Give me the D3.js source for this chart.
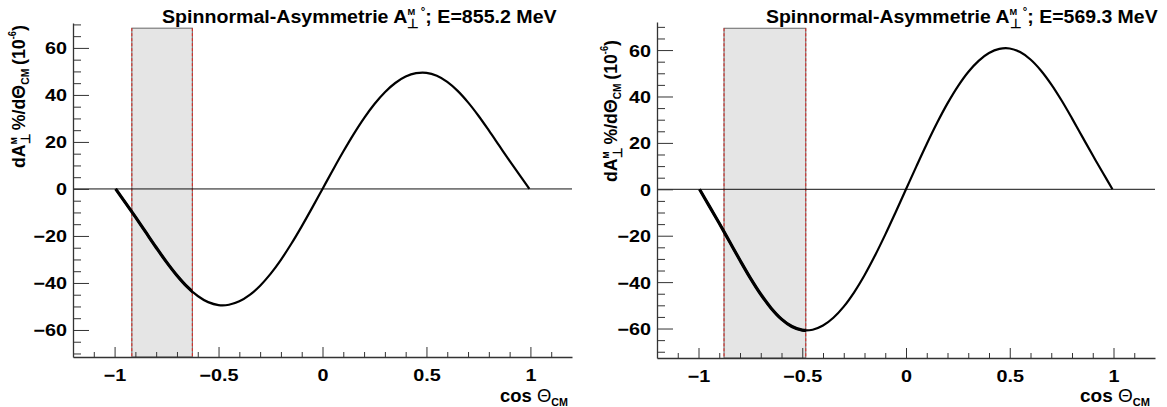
<!DOCTYPE html>
<html>
<head>
<meta charset="utf-8">
<script src="https://cdn.jsdelivr.net/npm/d3@7"></script>
<style>
  body { margin: 0; background: #fff; }
  svg { display: block; }
  text { font-family: "Liberation Sans", Arial, Helvetica, sans-serif; font-weight: bold; fill: #000; white-space: pre; }
</style>
</head>
<body>
<svg id="chart" width="1167" height="407"></svg>
<script>
// cos(theta_CM) sample positions of the asymmetry curves
const cosTheta = [-0.995, -0.95, -0.9, -0.85, -0.8, -0.75, -0.7, -0.65, -0.6, -0.55, -0.5,
  -0.45, -0.4, -0.35, -0.3, -0.25, -0.2, -0.15, -0.1, -0.05, 0,
  0.05, 0.1, 0.15, 0.2, 0.25, 0.3, 0.35, 0.4, 0.45, 0.5,
  0.55, 0.6, 0.65, 0.7, 0.75, 0.8, 0.85, 0.9, 0.95, 0.995];

// dA/dTheta in units of 1e-6, E = 855.2 MeV
const asym855 = [0, -5.63, -11.92, -18.41, -24.9, -31.15, -36.83, -41.71, -45.54, -48.15, -49.41,
  -49.26, -47.81, -45.07, -41.16, -36.13, -30.14, -23.33, -15.91, -8.06, 0,
  8.06, 15.91, 23.33, 30.14, 36.13, 41.16, 45.07, 47.81, 49.26, 49.41,
  48.15, 45.54, 41.71, 36.83, 31.15, 24.9, 18.41, 11.92, 5.63, 0];

// dA/dTheta in units of 1e-6, E = 569.3 MeV
const asym569 = [0, -6.92, -14.64, -22.61, -30.58, -38.26, -45.24, -51.23, -55.94, -59.14, -60.69,
  -60.51, -58.72, -55.36, -50.56, -44.38, -37.02, -28.66, -19.54, -9.9, 0,
  9.9, 19.54, 28.66, 37.02, 44.38, 50.56, 55.36, 58.72, 60.51, 60.69,
  59.14, 55.94, 51.23, 45.24, 38.26, 30.58, 22.61, 14.64, 6.92, 0];

const energies = ["855.2", "569.3"];
// acceptance band in cos(theta_CM) and its upper edge
const bandLow = [-0.917, -0.877];
const bandHigh = [-0.626, -0.483];
const bandTop = [68.4, 69.4];

const xDomain = [-1.2, 1.2];
const yDomains = [[-71.5, 70.6], [-72.7, 72.1]];
const xMajorTicks = [-1, -0.5, 0, 0.5, 1];
const xMinorTicks = [-1.1, -0.9, -0.8, -0.7, -0.6, -0.4, -0.3, -0.2, -0.1, 0.1, 0.2, 0.3, 0.4, 0.6, 0.7, 0.8, 0.9, 1.1];
const yMajorTicks = [-60, -40, -20, 0, 20, 40, 60];
const yMinorTicks = [-70, -65, -55, -50, -45, -35, -30, -25, -15, -10, -5, 5, 10, 15, 25, 30, 35, 45, 50, 55, 65, 70];

// frame geometry of the two pads
const frames = [
  { left: 73, right: 572, top: 23, bottom: 357, title: [162, 557], yTitle: { x: 25, y0: 168, y1: 25 }, xTitle: [500, 568] },
  { left: 657, right: 1155, top: 22, bottom: 358, title: [766, 1158], yTitle: { x: 617, y0: 182, y1: 40 }, xTitle: [1080, 1150] }
];

const svg = d3.select("#chart");
const STRETCH = 1.2;

// lay out a run of text pieces (with sub/superscripts) on one baseline
function richText(g, parts) {
  let x = 0;
  parts.forEach(p => {
    if (p.stack) {
      let w = 0;
      p.stack.forEach(q => {
        const t = g.append("text").attr("x", x).attr("y", q.dy || 0)
          .style("font-size", q.size + "px").text(q.text);
        w = Math.max(w, t.node().getComputedTextLength());
      });
      x += w + (p.gap || 0);
    } else {
      const t = g.append("text").attr("x", x).attr("y", p.dy || 0)
        .style("font-size", p.size + "px").text(p.text);
      if (p.weight) t.style("font-weight", p.weight);
      x += t.node().getComputedTextLength() + (p.gap || 0);
    }
  });
}

function fitHorizontal(parent, parts, x0, x1, baseline) {
  const outer = parent.append("g");
  const inner = outer.append("g");
  richText(inner, parts);
  const bb = inner.node().getBBox();
  const s = (x1 - x0) / bb.width;
  outer.attr("transform", `translate(${x0 - bb.x * s},${baseline}) scale(${s},1)`);
}

function fitVertical(parent, parts, xBase, yBottom, yTop) {
  const outer = parent.append("g");
  const inner = outer.append("g");
  richText(inner, parts);
  const bb = inner.node().getBBox();
  const s = (yBottom - yTop) / bb.width;
  outer.attr("transform", `translate(${xBase},${yBottom + bb.x * s}) rotate(-90) scale(${s},1)`);
}

const curveData = [asym855, asym569].map(vals => cosTheta.map((c, i) => [c, vals[i]]));

frames.forEach((f, k) => {
  const g = svg.append("g");
  const x = d3.scaleLinear().domain(xDomain).range([f.left, f.right]);
  const y = d3.scaleLinear().domain(yDomains[k]).range([f.bottom, f.top]);

  // acceptance band
  g.append("rect")
    .attr("x", x(bandLow[k])).attr("y", y(bandTop[k]))
    .attr("width", x(bandHigh[k]) - x(bandLow[k]))
    .attr("height", y(yDomains[k][0]) - y(bandTop[k]))
    .attr("fill", "#e5e5e5").attr("stroke", "#666").attr("stroke-width", 1);
  [bandLow[k], bandHigh[k]].forEach(v => {
    g.append("line")
      .attr("x1", x(v)).attr("x2", x(v))
      .attr("y1", y(bandTop[k])).attr("y2", y(yDomains[k][0]))
      .attr("stroke", "#e0251f").attr("stroke-width", 1).attr("stroke-dasharray", "3,2");
  });

  // zero line
  g.append("line")
    .attr("x1", x(xDomain[0])).attr("x2", x(xDomain[1]))
    .attr("y1", y(0)).attr("y2", y(0))
    .attr("stroke", "#111").attr("stroke-width", 1);

  // asymmetry curve
  const line = d3.line().x(d => x(d[0])).y(d => y(d[1])).curve(d3.curveCatmullRom.alpha(0.5));
  g.append("path").datum(curveData[k]).attr("d", line)
    .attr("fill", "none").attr("stroke", "#000").attr("stroke-width", 2.2);

  // heavier stroke over the band region
  const clipId = "clipBand" + k;
  g.append("clipPath").attr("id", clipId).append("rect")
    .attr("x", x(-1.05)).attr("y", f.top)
    .attr("width", x(bandHigh[k]) - x(-1.05)).attr("height", f.bottom - f.top);
  g.append("path").datum(curveData[k]).attr("d", line)
    .attr("clip-path", `url(#${clipId})`)
    .attr("fill", "none").attr("stroke", "#000").attr("stroke-width", 3.2);

  // x axis
  const xAxis = g.append("g").attr("transform", `translate(0,${f.bottom})`)
    .call(d3.axisBottom(x).tickValues(xMajorTicks).tickSizeInner(-10).tickSizeOuter(0).tickFormat(d3.format("")));
  const xMinor = g.append("g").attr("transform", `translate(0,${f.bottom})`)
    .call(d3.axisBottom(x).tickValues(xMinorTicks).tickSizeInner(-5).tickSizeOuter(0).tickFormat(""));
  xMinor.select(".domain").remove();
  xAxis.selectAll("text")
    .attr("y", 0).attr("dy", null)
    .attr("transform", `translate(0,24) scale(${STRETCH},1)`)
    .style("font-size", "16.5px");

  // y axis
  const yAxis = g.append("g").attr("transform", `translate(${f.left},0)`)
    .call(d3.axisLeft(y).tickValues(yMajorTicks).tickSizeInner(-16).tickSizeOuter(0).tickFormat(d3.format("")));
  const yMinor = g.append("g").attr("transform", `translate(${f.left},0)`)
    .call(d3.axisLeft(y).tickValues(yMinorTicks).tickSizeInner(-8).tickSizeOuter(0).tickFormat(""));
  yMinor.select(".domain").remove();
  yAxis.selectAll("text")
    .attr("x", -6 / STRETCH).attr("dy", "0.36em")
    .attr("transform", `scale(${STRETCH},1)`)
    .style("font-size", "16.5px");

  [xAxis, xMinor, yAxis, yMinor].forEach(a => {
    a.selectAll("line").attr("stroke", "#333").attr("stroke-width", 1);
    a.selectAll(".domain").attr("stroke", "#333").attr("stroke-width", 1.3);
    a.attr("font-family", null).attr("font-size", null);
  });

  // pad title
  fitHorizontal(g, [
    { text: "Spinnormal-Asymmetrie A", size: 19 },
    { stack: [{ text: "M", size: 9, dy: -8 }, { text: "⊥", size: 13, dy: 5 }], gap: 2 },
    { text: "°", size: 11, dy: -8 },
    { text: "; E=" + energies[k] + " MeV", size: 19 }
  ], f.title[0], f.title[1], 23);

  // y axis title
  fitVertical(g, [
    { text: "dA", size: 19 },
    { stack: [{ text: "M", size: 9, dy: -8 }, { text: "⊥", size: 13, dy: 5 }], gap: 4 },
    { text: "%/dΘ", size: 19 },
    { text: "CM", size: 11, dy: 4, gap: 4 },
    { text: "(10", size: 19 },
    { text: "-6", size: 10, dy: -9 },
    { text: ")", size: 19 }
  ], f.yTitle.x, f.yTitle.y0, f.yTitle.y1);

  // x axis title
  fitHorizontal(g, [
    { text: "cos ", size: 19 },
    { text: "Θ", size: 19, weight: "normal" },
    { text: "CM", size: 11, dy: 4 }
  ], f.xTitle[0], f.xTitle[1], 402);
});
</script>
</body>
</html>
